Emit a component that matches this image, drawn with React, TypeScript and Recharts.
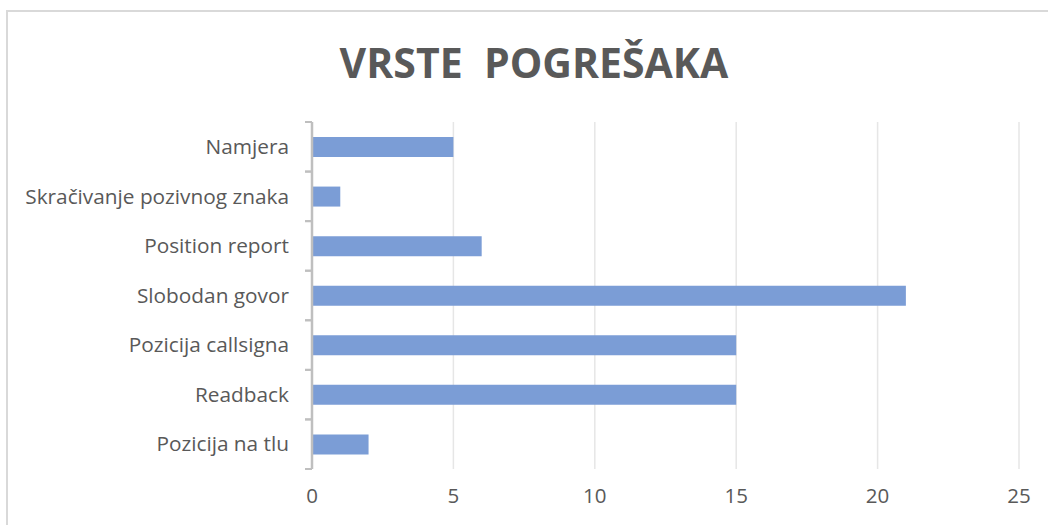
import { BarChart, Bar, XAxis, YAxis, CartesianGrid } from "recharts";

const categories = [
  "Namjera",
  "Skračivanje pozivnog znaka",
  "Position report",
  "Slobodan govor",
  "Pozicija callsigna",
  "Readback",
  "Pozicija na tlu",
];
const counts = [5, 1, 6, 21, 15, 15, 2];
const xTicks = [0, 5, 10, 15, 20, 25];

const data = categories.map((name, i) => ({ name, value: counts[i] }));

const TEXT = "#595959";
const FONT = "'Open Sans', sans-serif";

function CategoryTick(props: any) {
  const { x, y, payload } = props;
  const half = payload?.offset ?? 24.8;
  const axisX = x + 8;
  return (
    <g>
      <line x1={axisX - 7} x2={axisX} y1={y - half} y2={y - half} stroke="#bfbfbf" strokeWidth={2} />
      <line x1={axisX - 7} x2={axisX} y1={y + half} y2={y + half} stroke="#bfbfbf" strokeWidth={2} />
      <text x={x - 15} y={y} dy="0.35em" textAnchor="end" fill={TEXT} fontSize={20.8} fontFamily={FONT}>
        {payload.value}
      </text>
    </g>
  );
}

export default function App() {
  return (
    <div style={{ position: "absolute", left: 0, top: 0, width: 1048, height: 525, overflow: "hidden", background: "#fff" }}>
      <div
        style={{
          position: "absolute",
          left: 6,
          top: 10,
          width: 1100,
          height: 600,
          border: "2px solid #d9d9d9",
          boxSizing: "border-box",
        }}
      />
      <div
        style={{
          position: "absolute",
          left: 0,
          top: 34,
          width: 1068,
          textAlign: "center",
          fontFamily: FONT,
          fontWeight: 700,
          fontSize: 41,
          color: TEXT,
          whiteSpace: "pre",
        }}
      >
        {"VRSTE  POGREŠAKA"}
      </div>
      <div style={{ position: "absolute", left: 0, top: 0 }}>
        <BarChart
          width={1048}
          height={525}
          data={data}
          layout="vertical"
          margin={{ top: 122, right: 29, bottom: 26, left: 0 }}
          barSize={20}
        >
          <CartesianGrid horizontal={false} stroke="#e6e6e6" strokeWidth={1.5} />
          <XAxis
            type="number"
            domain={[0, 25]}
            ticks={xTicks}
            axisLine={false}
            tickLine={false}
            height={30}
            tickMargin={13}
            tick={{ fill: TEXT, fontSize: 20.5, fontFamily: FONT }}
          />
          <YAxis
            type="category"
            dataKey="name"
            width={312}
            axisLine={{ stroke: "#bfbfbf", strokeWidth: 2.5 }}
            tickLine={false}
            tick={<CategoryTick />}
          />
          <Bar dataKey="value" fill="#7b9dd6" isAnimationActive={false} />
        </BarChart>
      </div>
    </div>
  );
}
